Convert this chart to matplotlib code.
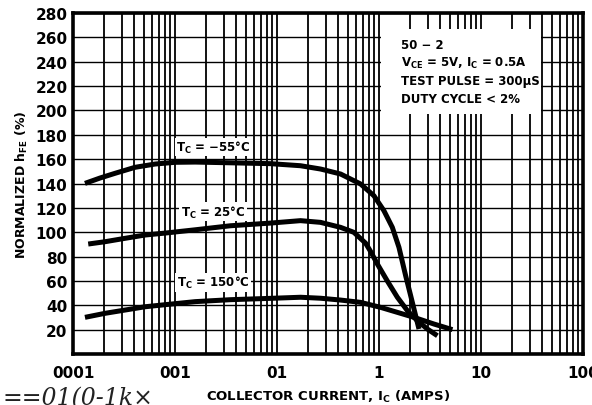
import matplotlib
matplotlib.use("Agg")
import matplotlib.pyplot as plt
from matplotlib.patches import Rectangle

plt.rcParams["font.family"] = ["Liberation Sans Narrow", "DejaVu Sans"]
plt.rcParams["font.weight"] = "bold"
plt.rcParams["axes.labelweight"] = "bold"
plt.rcParams["mathtext.fontset"] = "custom"
plt.rcParams["mathtext.rm"] = "Liberation Sans Narrow:bold"
plt.rcParams["mathtext.it"] = "Liberation Sans Narrow:bold"
plt.rcParams["mathtext.bf"] = "Liberation Sans Narrow:bold"

# Collector current (A) vs normalized hFE (%)
ic_m55 = [0.00131, 0.00184, 0.00259, 0.00406, 0.00639, 0.0100, 0.0158, 0.0349, 0.0861,
          0.170, 0.267, 0.420, 0.660, 0.891, 1.117, 1.351, 1.569, 1.825, 2.044, 2.288, 2.466]
hfe_m55 = [140.1, 144.5, 148.4, 153.3, 156.0, 157.4, 157.6, 157.0, 156.3,
           154.6, 151.9, 147.8, 139.6, 130.0, 117.7, 104.0, 87.6, 64.3, 47.9, 31.4, 20.5]

ic_25 = [0.00141, 0.00206, 0.00324, 0.00510, 0.00801, 0.0158, 0.0349, 0.0861, 0.170,
         0.267, 0.420, 0.567, 0.739, 0.83, 0.962, 1.206, 1.513, 1.897, 2.378, 2.982, 3.739]
hfe_25 = [90.3, 92.2, 95.0, 97.7, 99.3, 102.0, 105.3, 107.5, 109.5,
          108.1, 104.0, 99.9, 91.0, 84.0, 74.0, 60.0, 46.6, 35.6, 27.3, 20.5, 15.0]

ic_150 = [0.00131, 0.00206, 0.00324, 0.00510, 0.00801, 0.0158, 0.0349, 0.0861, 0.170,
          0.267, 0.420, 0.660, 1.037, 1.513, 2.202, 3.463, 5.248]
hfe_150 = [30.1, 33.4, 36.1, 38.8, 40.5, 43.0, 44.6, 45.7, 46.6,
           45.8, 44.3, 42.4, 38.3, 34.2, 30.1, 24.6, 20.0]

x_ticks = [0.001, 0.01, 0.1, 1, 10, 100]
x_tick_labels = ["0001", "001", "01", "1", "10", "100"]
y_ticks = [20, 40, 60, 80, 100, 120, 140, 160, 180, 200, 220, 240, 260, 280]

fig = plt.figure(figsize=(5.92, 4.06), dpi=100)
ax = fig.add_axes([0.1233, 0.1256, 0.8615, 0.8399])
ax.set_xscale("log")
ax.set_xlim(0.001, 100)
ax.set_ylim(0, 280)

# log-paper grid
for dec in [0.001, 0.01, 0.1, 1, 10]:
    for m in range(1, 10):
        ax.axvline(dec * m, color="black", lw=1.3, zorder=1)
for y in y_ticks:
    ax.axhline(y, color="black", lw=1.0, zorder=1)

# blank area behind the test conditions
ax.add_patch(Rectangle((1.04, 197), 38.6 - 1.04, 267 - 197, facecolor="white",
                       edgecolor="none", zorder=2))

for xs, ys in [(ic_m55, hfe_m55), (ic_25, hfe_25), (ic_150, hfe_150)]:
    ax.plot(xs, ys, color="black", lw=3.6, solid_capstyle="butt",
            solid_joinstyle="round", zorder=3)

lbl = dict(ha="center", va="center", fontsize=8.5, zorder=4,
           bbox=dict(facecolor="white", edgecolor="none", pad=1.0))
ax.text(0.0237, 170, r"$\mathrm{T_C}$ = −55°C", **lbl)
ax.text(0.0237, 117, r"$\mathrm{T_C}$ = 25°C", **lbl)
ax.text(0.0237, 59, r"$\mathrm{T_C}$ = 150°C", **lbl)

cond = ["50 − 2", r"$\mathrm{V_{CE}}$ = 5V, $\mathrm{I_C}$ = 0.5A",
        "TEST PULSE = 300µS", "DUTY CYCLE < 2%"]
for i, s in enumerate(cond):
    ax.text(1.63, 254.5 - i * 15.0, s, ha="left", va="center", fontsize=8.5, zorder=4)

ax.set_xticks(x_ticks)
ax.set_xticklabels(x_tick_labels)
ax.set_yticks(y_ticks)
ax.minorticks_off()
ax.tick_params(length=0, labelsize=11, pad=8)
ax.tick_params(axis="y", pad=4)
for sp in ax.spines.values():
    sp.set_linewidth(2.6)
    sp.set_zorder(5)

ax.set_ylabel(r"NORMALIZED $\mathrm{h_{FE}}$ (%)", fontsize=9, labelpad=4)
ax.set_xlabel(r"COLLECTOR CURRENT, $\mathrm{I_C}$ (AMPS)", fontsize=9.5)
ax.xaxis.set_label_coords(0.5, -0.10)

# handwritten scribble in the scan margin
fig.text(0.005, -0.01, "==01(0-1k×", fontsize=17, fontweight="normal",
         family="DejaVu Serif", style="italic", color="#222222", va="bottom")

fig.savefig("out.png", dpi=100)
